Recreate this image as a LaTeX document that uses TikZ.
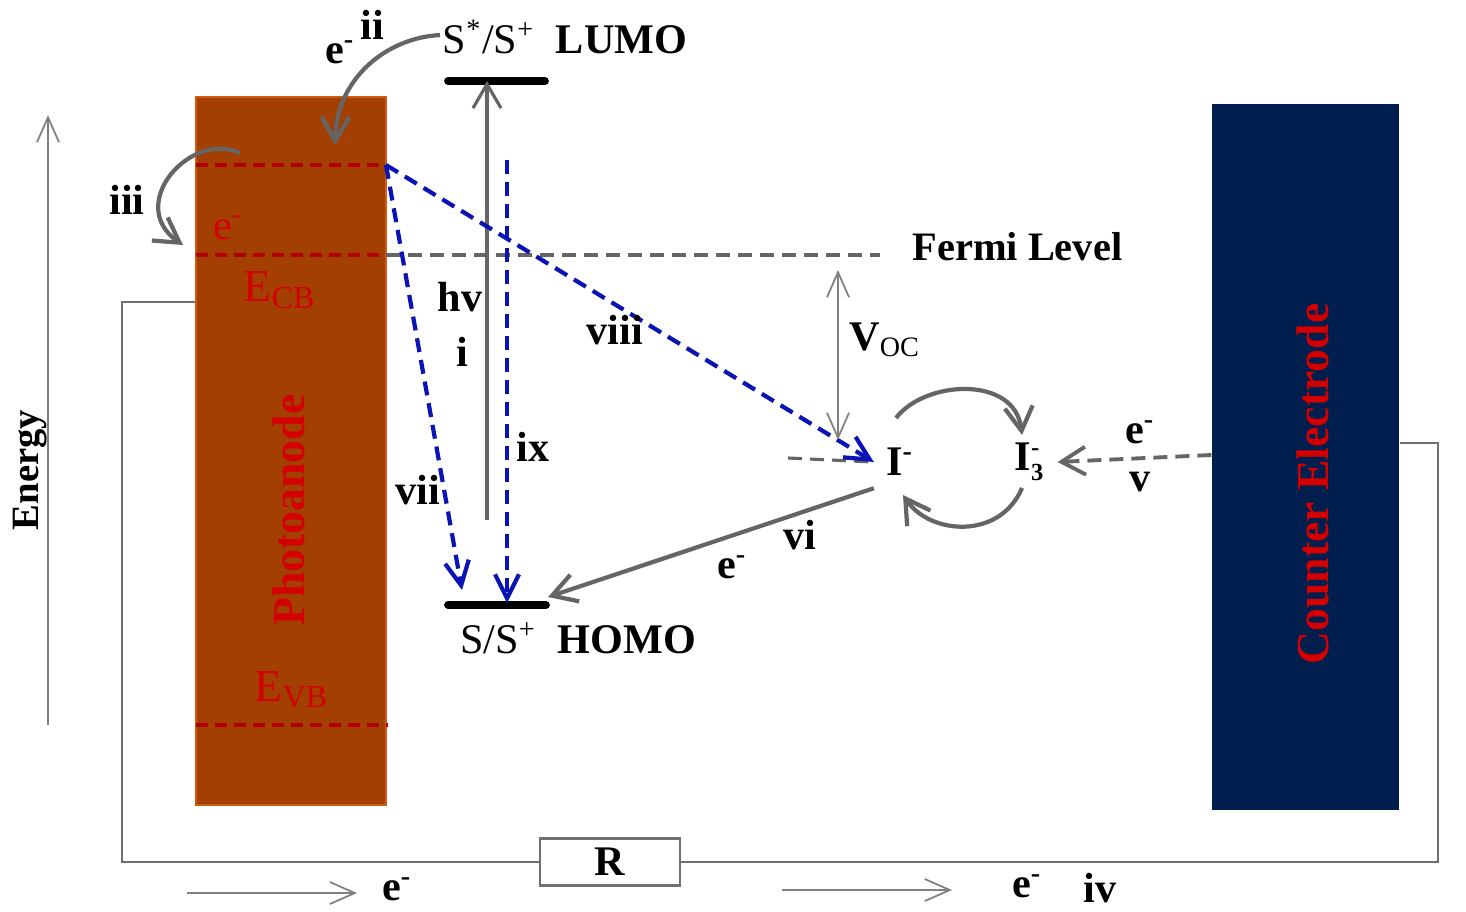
\documentclass[tikz,border=0pt]{standalone}
\usepackage{fontspec}
\setmainfont{Liberation Serif}
\usetikzlibrary{arrows.meta,positioning,calc}
\definecolor{anodefill}{HTML}{A33F00}
\definecolor{anodeedge}{HTML}{D05A10}
\definecolor{cefill}{HTML}{001F4F}
\definecolor{lblred}{HTML}{D40000}
\definecolor{lvlred}{HTML}{B00000}
\definecolor{arrgray}{HTML}{656565}
\definecolor{wiregray}{HTML}{707070}
\definecolor{dyeblue}{HTML}{0A14B4}

\begin{document}
\begin{tikzpicture}[x=0.1mm, y=-0.1mm,
  font=\fontsize{12}{14}\selectfont\bfseries,
  grayarr/.style={draw=arrgray, line width=1.2pt, -{Straight Barb[length=2.4mm,width=2.8mm]}},
  bluearr/.style={draw=dyeblue, line width=1.2pt, dash pattern=on 1.4mm off 0.8mm,
    -{Straight Barb[length=2.4mm,width=2.4mm]}},
  redlvl/.style={draw=lvlred, line width=1.1pt, dash pattern=on 1.2mm off 0.7mm},
  fermidash/.style={draw=arrgray, line width=1.1pt, dash pattern=on 1.4mm off 0.8mm},
  thinarr/.style={draw=gray, line width=0.5pt, -{Straight Barb[length=2.5mm,width=2.2mm]}},
  wire/.style={draw=wiregray, line width=0.8pt},
  orbital/.style={line width=2.2pt, line cap=round},
  redtxt/.style={text=lblred},
  bigtxt/.style={font=\fontsize{13}{15}\selectfont\bfseries}]
  \useasboundingbox (0,0) rectangle (1466,911);

  % Electrodes
  \node[fill=anodefill, draw=anodeedge, line width=0.6pt, minimum width=19mm,
    minimum height=70.8mm, inner sep=0pt] (pa) at (291,451) {};
  \node[fill=cefill, minimum width=18.7mm, minimum height=70.6mm,
    inner sep=0pt] (ce) at (1305.5,457) {};
  \node[rotate=90, redtxt, bigtxt] (patxt) at (289,510) {Photoanode};
  \node[rotate=90, redtxt, bigtxt] (cetxt) at (1313,484) {Counter Electrode};

  % Band levels in the photoanode
  \coordinate (inj) at (386,165);
  \coordinate (cb) at (386,255);
  \draw[redlvl] (196,165) -- (inj);
  \draw[redlvl] (196,255) -- (cb);
  \draw[redlvl] (196,725) -- (388,725);
  \node[redtxt, font=\fontsize{12}{14}\selectfont] (ecb0) at (228,228) {e\textsuperscript{-}};
  \node[redtxt, font=\fontsize{13}{15}\selectfont] (ecb) at (280,290) {E\textsubscript{CB}};
  \node[redtxt, font=\fontsize{13}{15}\selectfont] (evb) at (292,690) {E\textsubscript{VB}};

  % Fermi level
  \coordinate (fermiend) at (880,255);
  \draw[fermidash] (cb) -- (fermiend);
  \node[anchor=west, font=\fontsize{11.5}{14}\selectfont\bfseries] (fermi) at (900,247) {Fermi\ Level};

  % Dye orbitals
  \coordinate (lumo) at (487,81);
  \draw[orbital] (448,81) -- (545,81);
  \draw[orbital] (448,605) -- (546,605);
  \node (lumotxt) at (565,37) {{\mdseries S\textsuperscript{*}/S\textsuperscript{+}}\ \ LUMO};
  \node (homotxt) at (578,638) {{\mdseries S/S\textsuperscript{+}}\ \ HOMO};
  \coordinate (homoa) at (462,590);
  \coordinate (homob) at (507,603);
  \coordinate (homor) at (548,597);

  % Excitation
  \coordinate (hvstart) at (487,520);
  \draw[grayarr, line width=0.9pt] (hvstart) -- (lumo);
  \node (hv) at (460,297) {hv};
  \node (ilbl) at (462,352) {i};

  % Recombination paths
  \draw[bluearr] (507,160) -- (homob);
  \draw[bluearr] (inj) -- (homoa);
  \node (ixlbl) at (533,447) {ix};
  \node (viilbl) at (418,490) {vii};

  % Electrolyte
  \node (Iminus) at (900,462) {I\textsuperscript{-}};
  \node (Ithree) at (1030,462) {I$_{\mbox{\scriptsize\bfseries 3}}^{\mbox{\scriptsize\bfseries -}}$};
  \draw[fermidash, line width=0.9pt] (788,458) -- (Iminus.west);
  \draw[bluearr] (inj) -- (Iminus.west);
  \node (viiilbl) at (615,330) {viii};
  \draw[grayarr] (Iminus.south west) -- (homor);
  \node (vilbl) at (800,535) {vi};
  \node (evi) at (732,567) {e\textsuperscript{-}};

  % Open circuit voltage
  \draw[thinarr, {Straight Barb[length=2.5mm,width=2.2mm]}-{Straight Barb[length=2.5mm,width=2.2mm]}]
    (838,270) -- (838,440);
  \node (voc) at (885,340) {V\textsubscript{\mdseries OC}};

  % Redox cycle
  \coordinate (cyca) at (896,418);
  \coordinate (cycb) at (1022,435);
  \coordinate (cycc) at (1022,488);
  \coordinate (cycd) at (903,495);
  \draw[grayarr] (cyca) .. controls (925,380) and (1015,375) .. (cycb);
  \draw[grayarr] (cycc) .. controls (1000,540) and (930,535) .. (cycd);

  % Regeneration at the counter electrode
  \draw[fermidash, -{Straight Barb[length=2.4mm,width=2.8mm]}] (ce.west |- 0,455) -- (Ithree.east);
  \node (ev) at (1140,432) {e\textsuperscript{-}};
  \node (vlbl) at (1140,482) {v};

  % Injection and transport
  \coordinate (iistart) at (440,35);
  \coordinate (iiend) at (335,145);
  \draw[grayarr] (iistart) .. controls (385,38) and (336,80) .. (iiend);
  \node (eii) at (340,52) {e\textsuperscript{-}};
  \node (iilbl) at (372,25) {ii};
  \coordinate (iiistart) at (240,153);
  \coordinate (iiiend) at (183,245);
  \draw[grayarr] (iiistart) .. controls (190,130) and (125,205) .. (iiiend);
  \node (iiilbl) at (127,200) {iii};

  % Energy axis
  \draw[thinarr] (48,725) -- (48,115);
  \node[rotate=90, font=\fontsize{11}{13}\selectfont\bfseries] (energy) at (30,470) {Energy};

  % External circuit
  \node[draw=wiregray, line width=0.8pt, minimum width=14mm, minimum height=4.7mm,
    inner sep=0pt] (R) at (610,862) {R};
  \draw[wire] (pa.west |- 0,302) -| (122,862) -- (R.west);
  \draw[wire] (R.east) -| (1438,443) -- (ce.east |- 0,443);
  \node (eflowa) at (397,889) {e\textsuperscript{-}};
  \node (eflowb) at (1027,886) {e\textsuperscript{-}};
  \node (ivlbl) at (1100,888) {iv};
  \coordinate (flowa) at (187,893);
  \coordinate (flowb) at (782,890);
  \draw[thinarr] (flowa) -- ++(170,0);
  \draw[thinarr] (flowb) -- ++(170,0);
\end{tikzpicture}
\end{document}
